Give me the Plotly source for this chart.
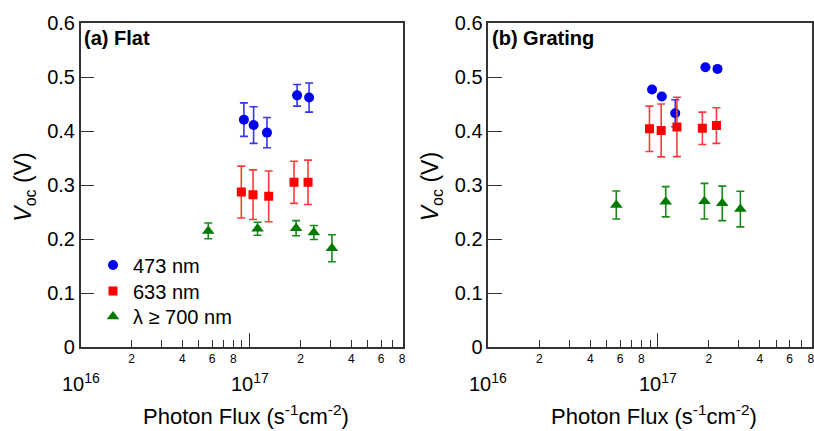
import math
import plotly.graph_objects as go

# ---------------- data ----------------
flux_473 = [9.25e16, 1.056e17, 1.267e17, 1.91e17, 2.25e17]
flux_633 = [8.93e16, 1.047e17, 1.297e17, 1.832e17, 2.218e17]
flux_700 = [5.69e16, 1.114e17, 1.884e17, 2.40e17, 3.07e17]

flat_473 = [0.421, 0.411, 0.397, 0.466, 0.462]
flat_473_err = [0.031, 0.034, 0.028, 0.020, 0.027]
flat_633 = [0.287, 0.282, 0.279, 0.305, 0.305]
flat_633_err = [0.048, 0.046, 0.047, 0.039, 0.041]
flat_700 = [0.215, 0.219, 0.220, 0.212, 0.183]
flat_700_err = [0.0145, 0.012, 0.014, 0.013, 0.025]

grat_473 = [0.477, 0.464, 0.433, 0.518, 0.515]
grat_473_err = [0.0, 0.0, 0.025, 0.0, 0.0]
grat_633 = [0.404, 0.401, 0.4075, 0.405, 0.410]
grat_633_err = [0.042, 0.049, 0.055, 0.030, 0.033]
grat_700 = [0.263, 0.269, 0.270, 0.266, 0.2555]
grat_700_err = [0.026, 0.028, 0.033, 0.032, 0.033]

series_names = ["473 nm", "633 nm", "\u03bb \u2265 700 nm"]
panel_labels = ["<b>(a) Flat</b>", "<b>(b) Grating</b>"]
y_tick_vals = [0, 0.1, 0.2, 0.3, 0.4, 0.5, 0.6]
y_tick_text = ["0", "0.1", "0.2", "0.3", "0.4", "0.5", "0.6"]
x_minor_vals = [m * 10 ** d for d in (16, 17) for m in range(2, 10)]
x_minor_text = [str(m) if m % 2 == 0 else "" for d in (16, 17) for m in range(2, 10)]
decades = [16, 17]
x_title = "Photon Flux (s<sup>-1</sup>cm<sup>-2</sup>)"
y_title = "<i>V</i><sub>oc</sub> (V)"

# ---------------- style ----------------
W, H = 814, 431
FONT = "Liberation Sans, Arial, sans-serif"
AX = "#333333"
colors = ["#0000f0", "#ff0000", "#007a00"]
err_colors = ["#3535e6", "#ff3a3a", "#1a8a1a"]
symbols = ["circle", "square", "triangle-up"]
sizes = [10, 9, 11]
legend_ids = ["legend", "legend2", "legend3"]
legend_rows_px = [265, 291, 316.5]

def px_x(p):
    return p / W

def px_y(p):
    return 1 - p / H

panels = [
    dict(x0=80.7, x1=403.0, data=[(flux_473, flat_473, flat_473_err),
                                   (flux_633, flat_633, flat_633_err),
                                   (flux_700, flat_700, flat_700_err)]),
    dict(x0=488.3, x1=811.7, data=[(flux_473, grat_473, grat_473_err),
                                    (flux_633, grat_633, grat_633_err),
                                    (flux_700, grat_700, grat_700_err)]),
]
top_px, bot_px = 23.0, 347.0

fig = go.Figure()
annotations = []
for pi, pan in enumerate(panels):
    xa = "x" if pi == 0 else "x2"
    ya = "y" if pi == 0 else "y2"
    for si, (xs, ys, es) in enumerate(pan["data"]):
        fig.add_trace(go.Scatter(
            x=xs, y=ys, xaxis=xa, yaxis=ya, mode="markers",
            name=series_names[si], showlegend=(pi == 0),
            legend=legend_ids[si],
            marker=dict(symbol=symbols[si], size=sizes[si], color=colors[si],
                        line=dict(width=0)),
            error_y=dict(type="data", array=es, visible=True,
                         color=err_colors[si], thickness=1.6, width=4),
        ))
    axkey = "xaxis" if pi == 0 else "xaxis2"
    aykey = "yaxis" if pi == 0 else "yaxis2"
    fig.update_layout(**{
        axkey: dict(
            domain=[px_x(pan["x0"]), px_x(pan["x1"])], anchor=ya,
            type="log", range=[16, 17.908], automargin=False,
            tickmode="array", tickvals=x_minor_vals, ticktext=x_minor_text,
            ticks="inside", ticklen=7, tickwidth=1.3, tickcolor=AX,
            ticklabeloverflow="allow",
            tickfont=dict(size=12, family=FONT, color="black"),
            minor=dict(tickmode="array", tickvals=[1e16, 1e17], ticks="inside",
                       ticklen=14, tickwidth=1.3, tickcolor=AX, showgrid=False),
            showline=True, mirror=True, linecolor=AX, linewidth=1.5,
            showgrid=False, zeroline=False,
        ),
        aykey: dict(
            domain=[px_y(bot_px), px_y(top_px)], anchor=xa, automargin=False,
            range=[0, 0.6], tickmode="array", tickvals=y_tick_vals,
            ticktext=y_tick_text, ticks="inside", ticklen=14, tickwidth=1.3,
            tickcolor=AX, tickfont=dict(size=20, family=FONT, color="black"),
            ticklabeloverflow="allow",
            showline=True, mirror=True, linecolor=AX, linewidth=1.5,
            showgrid=False, zeroline=False,
        ),
    })
    # decade labels
    for d in decades:
        annotations.append(dict(
            x=d, xref=xa, y=px_y(382), yref="paper", yanchor="middle",
            xanchor="center", showarrow=False,
            text="10<sup>%d</sup>" % d,
            font=dict(size=20, family=FONT, color="black")))
    # panel label
    annotations.append(dict(
        x=px_x(pan["x0"] + 1.5), xref="paper", y=px_y(38), yref="paper",
        xanchor="left", yanchor="middle", showarrow=False,
        text=panel_labels[pi], font=dict(size=20, family=FONT, color="black")))
    # x title
    annotations.append(dict(
        x=px_x((pan["x0"] + pan["x1"]) / 2 + 4), xref="paper", y=0,
        yref="paper", xanchor="center", yanchor="bottom", showarrow=False,
        text=x_title, font=dict(size=22, family=FONT, color="black")))
    # y title
    annotations.append(dict(
        x=px_x(pan["x0"] - 57), xref="paper", y=px_y(187), yref="paper",
        xanchor="center", yanchor="middle", showarrow=False, textangle=-90,
        text=y_title, font=dict(size=23, family=FONT, color="black")))

legends = {}
for li, lid in enumerate(legend_ids):
    legends[lid] = dict(x=px_x(93), y=px_y(legend_rows_px[li]),
                        xanchor="left", yanchor="middle",
                        bgcolor="rgba(0,0,0,0)",
                        font=dict(size=20, family=FONT, color="black"),
                        itemwidth=30)

fig.update_layout(
    width=W, height=H, margin=dict(l=0, r=0, t=0, b=0, autoexpand=False),
    plot_bgcolor="white", paper_bgcolor="white",
    font=dict(family=FONT, color="black"),
    annotations=annotations,
    **legends,
)

fig.write_html("out.html")
